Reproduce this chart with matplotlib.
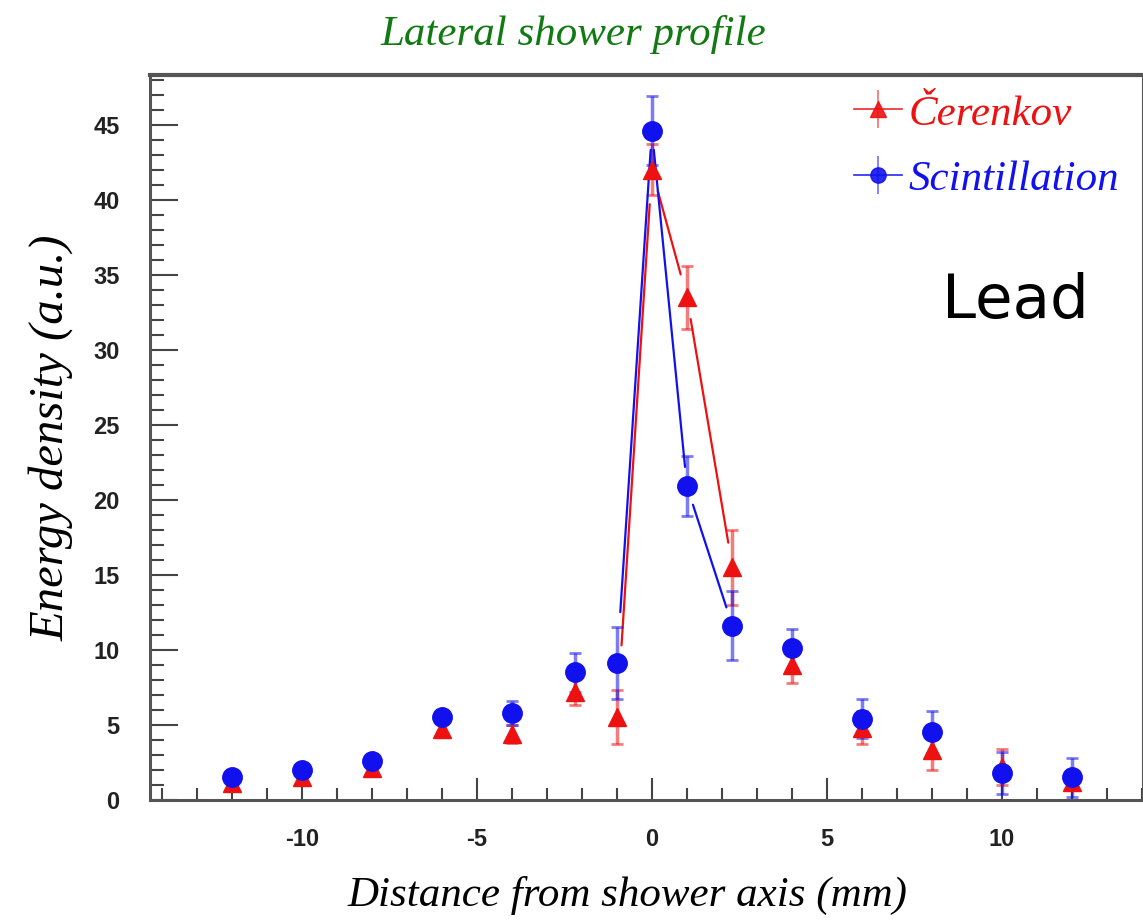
import matplotlib
matplotlib.use('Agg')
import matplotlib.pyplot as plt
from matplotlib.lines import Line2D
from matplotlib.ticker import MultipleLocator

plt.rcParams['axes.unicode_minus'] = False

# values
x_scint = [-12, -10, -8, -6, -4, -2.2, -1, 0, 1, 2.3, 4, 6, 8, 10, 12]
y_scint = [1.5, 2.0, 2.6, 5.5, 5.8, 8.5, 9.1, 44.6, 20.9, 11.6, 10.1, 5.4, 4.5, 1.8, 1.5]
e_scint = [0.3, 0.3, 0.3, 0.4, 0.8, 1.3, 2.4, 2.3, 2.0, 2.3, 1.3, 1.3, 1.4, 1.4, 1.3]

x_cer = [-12, -10, -8, -6, -4, -2.2, -1, 0, 1, 2.3, 4, 6, 8, 10, 12]
y_cer = [1.1, 1.5, 2.1, 4.7, 4.4, 7.2, 5.5, 42.0, 33.5, 15.5, 9.0, 4.8, 3.3, 2.2, 1.2]
e_cer = [0.3, 0.3, 0.3, 0.4, 0.6, 0.9, 1.8, 1.7, 2.1, 2.5, 1.2, 1.1, 1.3, 1.2, 0.4]

# central points joined by a line (x from -1 to 2.3)
line_idx = [6, 7, 8, 9]

RED = '#ee1111'
BLUE = '#1111ee'

fig = plt.figure(figsize=(11.43, 9.23), dpi=100)
ax = fig.add_axes([150/1143, 123/923, 993/1143, 725/923])
ax.set_xlim(-14.34, 14.03)
ax.set_ylim(0, 48.3)

def draw_series(x, y, e, color, marker, ms, gaps):
    ax.errorbar(x, y, yerr=e, fmt='none', ecolor=color, alpha=0.55,
                elinewidth=2.5, capsize=4, capthick=2, zorder=2)
    ax.plot(x, y, linestyle='none', marker=marker, color=color, ms=ms, zorder=3)
    for k in range(len(line_idx) - 1):
        i, j = line_idx[k], line_idx[k + 1]
        ax.annotate('', xy=(x[j], y[j]), xytext=(x[i], y[i]),
                    arrowprops=dict(arrowstyle='-', color=color, lw=1.6,
                                    shrinkA=gaps[k][0], shrinkB=gaps[k][1]),
                    zorder=2)

draw_series(x_cer, y_cer, e_cer, RED, '^', 13, [(52, 25), (16, 17), (16, 18)])
draw_series(x_scint, y_scint, e_scint, BLUE, 'o', 14, [(37, 14), (14, 14), (14, 14)])

# axes / ticks
ax.xaxis.set_major_locator(MultipleLocator(5))
ax.xaxis.set_minor_locator(MultipleLocator(1))
ax.yaxis.set_major_locator(MultipleLocator(5))
ax.yaxis.set_minor_locator(MultipleLocator(1))
ax.tick_params(which='both', direction='in', color='#444444', width=1.5,
               top=False, right=False)
ax.tick_params(axis='y', which='major', length=20, pad=22)
ax.tick_params(axis='y', which='minor', length=10)
ax.tick_params(axis='x', which='major', length=16, pad=20)
ax.tick_params(axis='x', which='minor', length=8.5)
for lab in ax.get_xticklabels() + ax.get_yticklabels():
    lab.set_fontfamily('Liberation Sans')
    lab.set_fontweight('bold')
    lab.set_fontsize(17)
    lab.set_color('#222222')
for s in ax.spines.values():
    s.set_color('#555555')
    s.set_linewidth(2.2)
ax.spines['top'].set_linewidth(3)

ax.set_xlabel('Distance from shower axis (mm)', family='Liberation Serif',
              style='italic', fontsize=31)
ax.xaxis.set_label_coords(0.481, -0.105)
ax.set_ylabel('Energy density (a.u.)', family='Liberation Serif',
              style='italic', fontsize=35, labelpad=14)

fig.text(573/1143, 1 - 35/923, 'Lateral shower profile', color='#127a12',
         family='Liberation Serif', style='italic', fontsize=31,
         ha='center', va='center')
fig.text(1015/1143, 1 - 302/923, 'Lead', family='DejaVu Sans', fontsize=44,
         ha='center', va='center')

# legend
h_cer = (Line2D([], [], color=RED, lw=1.2, marker='^', ms=11, alpha=0.9),
         Line2D([], [], color=RED, lw=0, marker='|', ms=28, mew=1.2, alpha=0.6))
h_sci = (Line2D([], [], color=BLUE, lw=1.2, marker='o', ms=11, alpha=0.9),
         Line2D([], [], color=BLUE, lw=0, marker='|', ms=28, mew=1.2, alpha=0.6))
leg = ax.legend([h_cer, h_sci], ['Čerenkov', 'Scintillation'],
                loc='upper left', bbox_to_anchor=(0.692, 0.997), frameon=False,
                prop=dict(family='Liberation Serif', style='italic', size=31),
                handlelength=1.1, handletextpad=0.15, labelspacing=0.62,
                borderaxespad=0.0, labelcolor=[RED, BLUE])

fig.savefig('out.png', dpi=100)
